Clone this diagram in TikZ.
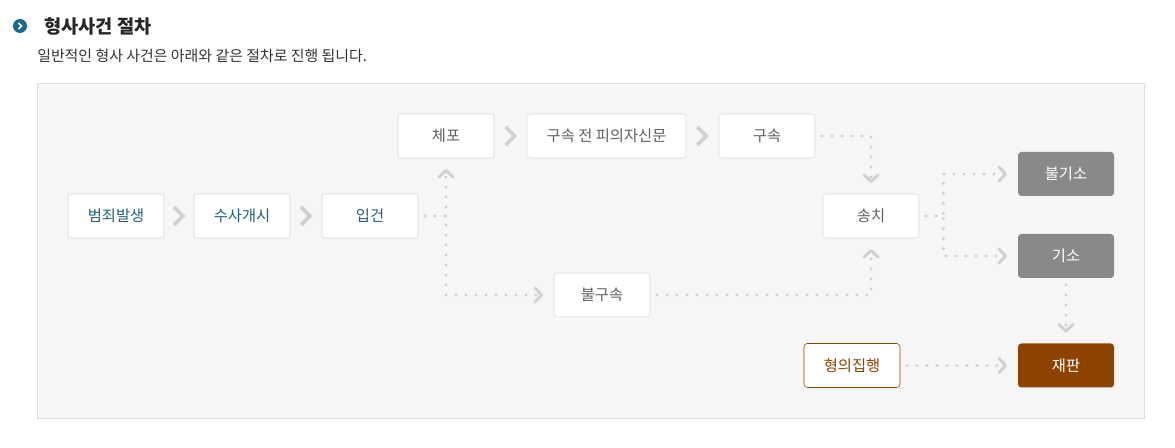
\documentclass[tikz,border=0pt]{standalone}
\usepackage{fontspec}
\newfontfamily\krfont{Noto Sans CJK KR}
\usetikzlibrary{arrows.meta,positioning}

\definecolor{panelbg}{HTML}{F6F6F6}
\definecolor{panelline}{HTML}{DDDDDD}
\definecolor{boxline}{HTML}{DADADA}
\definecolor{textgray}{HTML}{606060}
\definecolor{stepblue}{HTML}{1F5F7F}
\definecolor{iconblue}{HTML}{17698E}
\definecolor{dotgray}{HTML}{D0D0D0}
\definecolor{resultgray}{HTML}{898989}
\definecolor{trialbrown}{HTML}{8E4200}

\begin{document}
\begin{tikzpicture}[x=0.75pt,y=-0.75pt,
   font=\krfont\fontsize{11.5}{13}\selectfont,
   stepbox/.style={draw=boxline,fill=white,rounded corners=2.5pt,
     minimum width=72pt,minimum height=33pt,inner sep=0pt,text=textgray},
   startbox/.style={stepbox,text=stepblue},
   resultbox/.style={stepbox,draw=none,fill=resultgray,text=white},
   chevline/.style={draw=dotgray,line width=2.7pt,line join=miter},
   chevR/.pic={\draw[chevline] (-5,-9) -- (4,0) -- (-5,9);},
   dotline/.style={draw=dotgray,line width=2.5pt,line cap=round,
     dash pattern=on 0pt off 7.5pt,shorten <=5pt,shorten >=8pt,
     -{Straight Barb[length=5pt,width=10.5pt,line width=2.2pt,round]}}]
\useasboundingbox (0,0) rectangle (1175,448);

% heading
\fill[iconblue] (20,26) circle (7);
\draw[white,line width=1.2pt] (18.5,23) -- (21.5,26) -- (18.5,29);
\node[anchor=west,font=\krfont\bfseries\fontsize{14}{16}\selectfont,text=black!85,inner sep=0pt]
  (title) at (44,26) {형사사건 절차};
\node[anchor=west,font=\krfont\fontsize{11.2}{13}\selectfont,text=black!80,inner sep=0pt]
  (subtitle) at (37,56) {일반적인 형사 사건은 아래와 같은 절차로 진행 됩니다.};

% panel
\draw[panelline,fill=panelbg] (37.5,83.5) rectangle (1144,418);

% steps
\node[startbox] (crime) at (116,216) {범죄발생};
\node[startbox] (probe) at (242,216) {수사개시};
\node[startbox] (booking) at (370,216) {입건};
\node[stepbox] (arrest) at (446,136) {체포};
\node[stepbox,minimum width=119pt] (hearing) at (606.5,136) {구속 전 피의자신문};
\node[stepbox] (detain) at (767,136) {구속};
\node[stepbox] (nodetain) at (602,295) {불구속};
\node[stepbox] (transfer) at (871,216) {송치};
\node[resultbox] (nocharge) at (1066,174) {불기소};
\node[resultbox] (charge) at (1066,256) {기소};
\node[stepbox,draw=trialbrown,text=trialbrown] (execute) at (852,365.5) {형의집행};
\node[resultbox,fill=trialbrown] (trial) at (1066,365.5) {재판};

% chevrons between boxes
\path (crime.east) -- pic{chevR} (probe.west);
\path (probe.east) -- pic{chevR} (booking.west);
\path (arrest.east) -- pic{chevR} (hearing.west);
\path (hearing.east) -- pic{chevR} (detain.west);

% dotted flows
\draw[dotline] (booking.east) -| (arrest.south);
\draw[dotline] (booking.east) -- (booking.east -| arrest.south) |- (nodetain.west);
\draw[dotline] (detain.east) -| (transfer.north);
\draw[dotline] (nodetain.east) -| (transfer.south);
\draw[dotline] (transfer.east) -- ++(24,0) |- (nocharge.west);
\draw[dotline] (transfer.east) -- ++(24,0) |- (charge.west);
\draw[dotline] (charge.south) -- (trial.north);
\draw[dotline] (execute.east) -- (trial.west);
\end{tikzpicture}
\end{document}
